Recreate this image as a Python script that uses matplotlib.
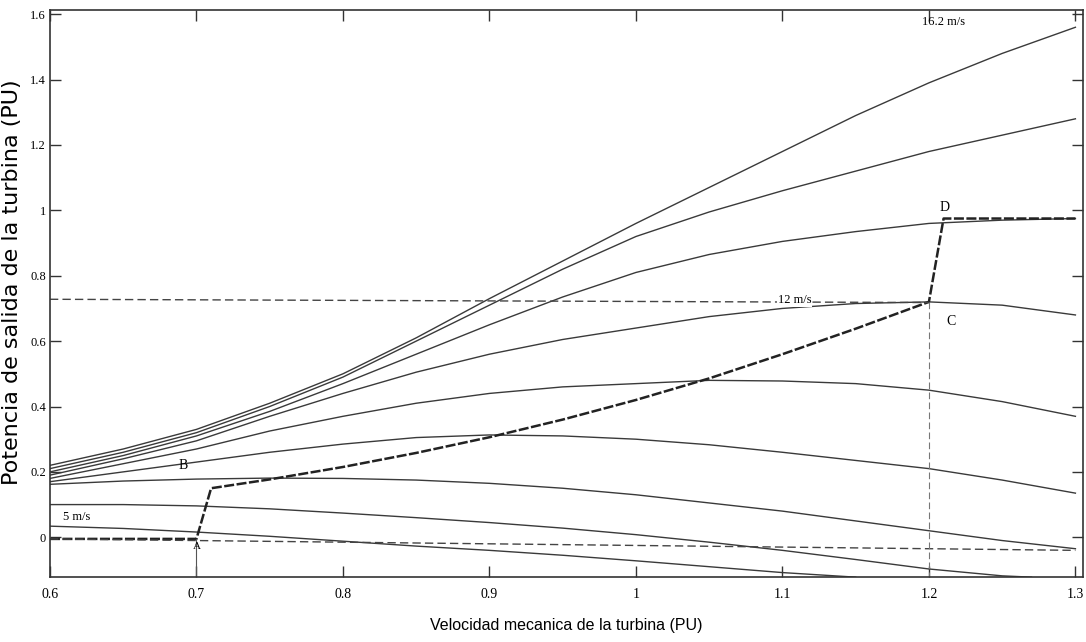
import matplotlib
matplotlib.use("Agg")
import matplotlib.pyplot as plt

plt.rcParams['font.family'] = ['Liberation Sans', 'DejaVu Sans']

# rotor speed samples (pu)
speed = [0.6, 0.65, 0.7, 0.75, 0.8, 0.85, 0.9, 0.95, 1.0, 1.05, 1.1, 1.15, 1.2, 1.25, 1.3]

# turbine power curves (pu), highest wind speed first
p_a = [0.22, 0.27, 0.33, 0.41, 0.50, 0.61, 0.73, 0.845, 0.96, 1.07, 1.18, 1.29, 1.39, 1.48, 1.56]
p_b = [0.21, 0.26, 0.32, 0.40, 0.49, 0.60, 0.71, 0.82, 0.92, 0.995, 1.06, 1.12, 1.18, 1.23, 1.28]
p_c = [0.20, 0.25, 0.31, 0.385, 0.47, 0.56, 0.65, 0.735, 0.81, 0.865, 0.905, 0.935, 0.96, 0.97, 0.975]
p_d = [0.19, 0.24, 0.295, 0.37, 0.44, 0.505, 0.56, 0.605, 0.64, 0.675, 0.70, 0.715, 0.72, 0.71, 0.68]
p_e = [0.18, 0.225, 0.27, 0.325, 0.37, 0.41, 0.44, 0.46, 0.47, 0.48, 0.478, 0.47, 0.45, 0.415, 0.37]
p_f = [0.17, 0.20, 0.23, 0.26, 0.285, 0.305, 0.313, 0.31, 0.30, 0.283, 0.26, 0.235, 0.21, 0.175, 0.135]
p_g = [0.162, 0.172, 0.178, 0.181, 0.18, 0.175, 0.165, 0.15, 0.13, 0.105, 0.08, 0.05, 0.02, -0.01, -0.035]
speed_h = [0.6, 0.65, 0.7, 0.75, 0.8, 0.85, 0.9, 0.95, 1.0, 1.05, 1.1, 1.15, 1.2, 1.25, 1.27]
p_h = [0.10, 0.10, 0.096, 0.087, 0.074, 0.06, 0.045, 0.028, 0.008, -0.015, -0.04, -0.068, -0.097, -0.118, -0.122]
speed_i = [0.6, 0.65, 0.7, 0.75, 0.8, 0.85, 0.9, 0.95, 1.0, 1.05, 1.1, 1.15]
p_i = [0.034, 0.027, 0.016, 0.003, -0.012, -0.027, -0.04, -0.055, -0.072, -0.09, -0.108, -0.122]

# tracking characteristic A-B-C-D
track_x = [0.6, 0.70, 0.71, 0.75, 0.8, 0.85, 0.9, 0.95, 1.0, 1.05, 1.1, 1.15, 1.2, 1.21, 1.3]
track_y = [-0.005, -0.005, 0.15, 0.177, 0.215, 0.258, 0.306, 0.36, 0.42, 0.486, 0.56, 0.638, 0.72, 0.975, 0.975]

# dashed reference lines
ref_hi_x = [0.6, 1.2]
ref_hi_y = [0.728, 0.718]
ref_lo_x = [0.6, 1.3]
ref_lo_y = [-0.005, -0.04]

xticks = [0.6, 0.7, 0.8, 0.9, 1.0, 1.1, 1.2, 1.3]
xticklabels = ['0.6', '0.7', '0.8', '0.9', '1', '1.1', '1.2', '1.3']
yticks = [0, 0.2, 0.4, 0.6, 0.8, 1.0, 1.2, 1.4, 1.6]
yticklabels = ['0', '0.2', '0.4', '0.6', '0.8', '1', '1.2', '1.4', '1.6']

fig = plt.figure(figsize=(10.86, 6.42), dpi=100)
ax = fig.add_axes([0.046, 0.101, 0.951, 0.883])

line_col = '#3a3a3a'
for p in [p_a, p_b, p_c, p_d, p_e, p_f, p_g]:
    ax.plot(speed, p, color=line_col, lw=1.0)
ax.plot(speed_h, p_h, color=line_col, lw=1.0)
ax.plot(speed_i, p_i, color=line_col, lw=1.0)

ax.plot(track_x, track_y, color='#222222', lw=1.8, ls=(0, (4, 1)))
ax.plot(ref_hi_x, ref_hi_y, color='#444444', lw=1.0, ls=(0, (6, 3)))
ax.plot(ref_lo_x, ref_lo_y, color='#444444', lw=1.0, ls=(0, (6, 3)))
ax.plot([1.2, 1.2], [track_y[12], -0.122], color='#777777', lw=0.8, ls=(0, (6, 3)))
ax.plot([0.7, 0.7], [track_y[1], -0.122], color='#555555', lw=0.8)

serif = 'Liberation Serif'
ax.text(1.195, 1.595, '16.2 m/s', fontsize=9, family=serif, va='top')
ax.text(1.097, 0.725, '12 m/s', fontsize=9, family=serif, va='center',
        bbox=dict(facecolor='white', edgecolor='none', pad=0.5))
ax.text(0.609, 0.045, '5 m/s', fontsize=9, family=serif, va='bottom')
ax.text(0.7, -0.015, 'A', fontsize=8, family=serif, ha='center', va='top')
ax.text(0.694, 0.22, 'B', fontsize=10, family=serif, ha='right', va='center')
ax.text(1.212, 0.68, 'C', fontsize=10, family=serif, ha='left', va='top')
ax.text(1.207, 0.99, 'D', fontsize=10, family=serif, ha='left', va='bottom')

ax.set_xlim(0.6, 1.305)
ax.set_ylim(-0.122, 1.612)
ax.set_xticks(xticks)
ax.set_xticklabels(xticklabels, fontsize=10, family=serif)
ax.set_yticks(yticks)
ax.set_yticklabels(yticklabels, fontsize=9, family=serif)
ax.tick_params(direction='in', top=True, right=True, length=8, width=1.0,
               color='#333333')
ax.tick_params(axis='x', pad=8)
ax.tick_params(axis='y', pad=3)
for s in ax.spines.values():
    s.set_color('#333333')
    s.set_linewidth(1.2)

ax.set_xlabel('Velocidad mecanica de la turbina (PU)', fontsize=11.5, labelpad=12)
ax.set_ylabel('Potencia de salida de la turbina (PU)', fontsize=16,
              family='DejaVu Sans')
ax.yaxis.set_label_coords(-0.0275, 0.52)

plt.savefig('out.png', dpi=100)
plt.close()
